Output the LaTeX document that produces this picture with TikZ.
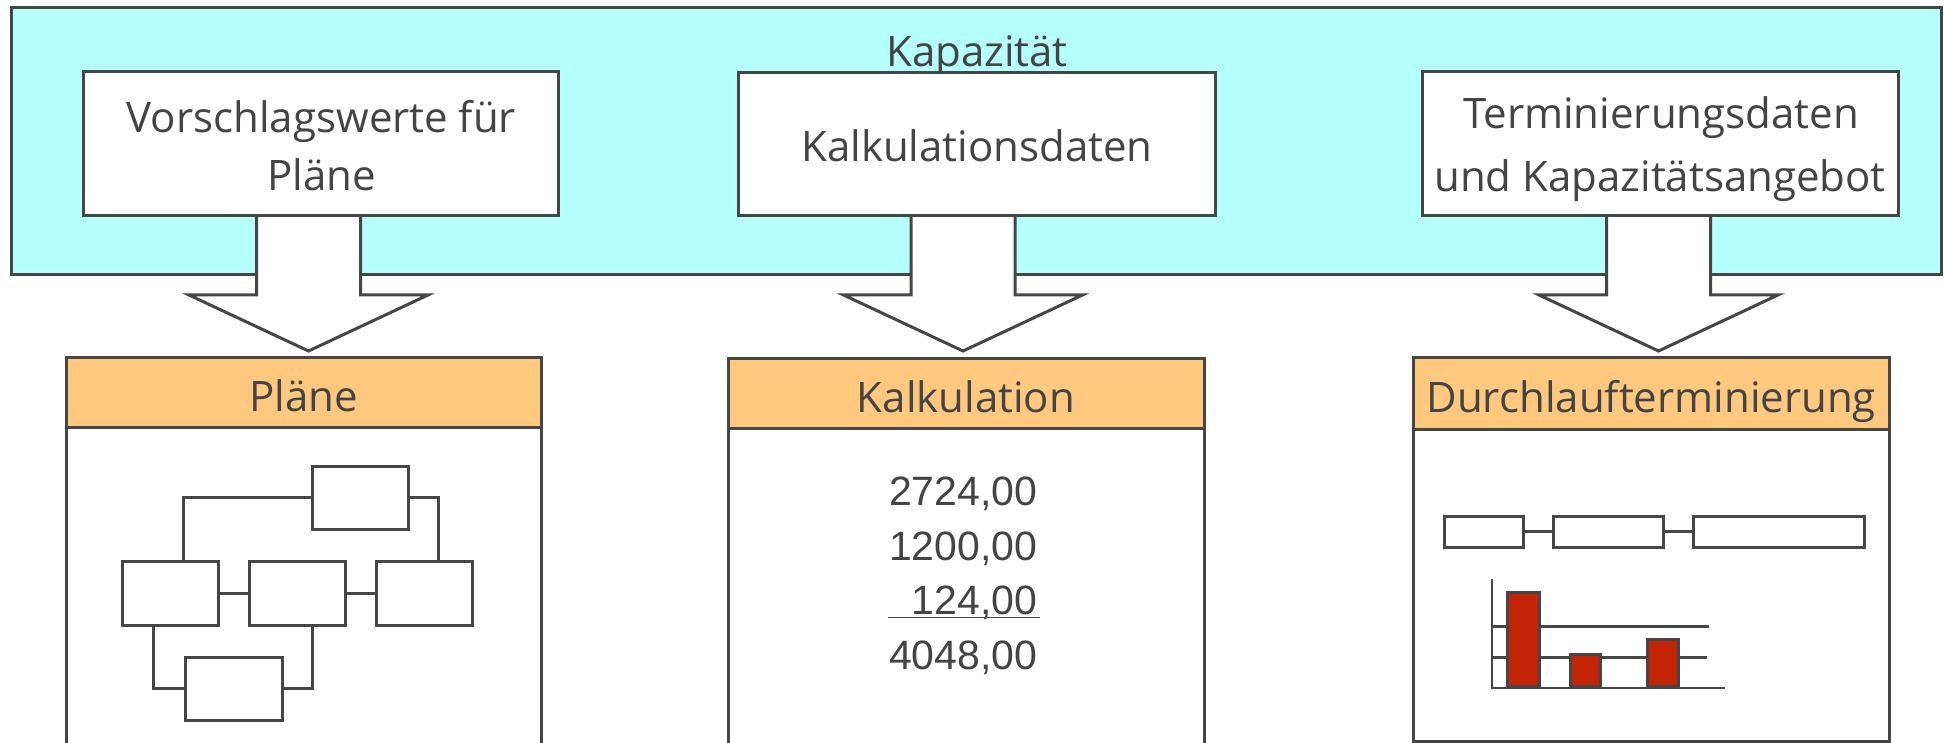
\documentclass[tikz,border=0pt]{standalone}
\usepackage{fontspec}
\usetikzlibrary{calc}
\newfontfamily\osans{Open Sans}
\newfontfamily\lsans{Liberation Sans}
\definecolor{lc}{RGB}{70,70,70}
\definecolor{tc}{RGB}{68,68,68}
\definecolor{cyanbg}{RGB}{181,255,255}
\definecolor{orangehd}{RGB}{254,200,127}
\definecolor{redbar}{RGB}{196,36,6}
\tikzset{
 frame/.style={draw=lc, line width=3pt},
 bigbox/.style={frame, fill=white, rectangle, inner sep=0pt},
 boxtext/.style={anchor=base, inner sep=0pt, text=tc, font=\osans\fontsize{42}{50}\selectfont},
 header/.style={frame, fill=orangehd, inner sep=0pt, text=tc, font=\osans\fontsize{42}{50}\selectfont, text height=38pt, text depth=0pt},
 body/.style={frame, fill=white, inner sep=0pt},
 smallbox/.style={frame, fill=white, inner sep=0pt},
 link/.style={draw=lc, line width=3pt},
 axisline/.style={draw=lc, line width=2.2pt},
 blockarrow/.style={frame, fill=white, line join=miter},
 num/.style={inner sep=0pt, text=tc, font=\lsans\fontsize{41}{48}\selectfont, anchor=base east},
 bar/.style={frame, fill=redbar, inner sep=0pt, anchor=south},
}
\begin{document}
\begin{tikzpicture}[x=1pt,y=-1pt]
\useasboundingbox (0,0) rectangle (1944,743);
% capacity frame
\node[frame, fill=cyanbg, minimum width=1930pt, minimum height=267pt, inner sep=0pt] (kapa) at (976,141.5) {};
\node[boxtext] (kaplabel) at (977,67) {Kapazität};
% block arrows
\foreach \c/\n in {308.5/1,963/2,1658.5/3}{
  \coordinate (as\n) at (\c,216);
  \coordinate (at\n) at (\c,351);
  \draw[blockarrow] ($(as\n)+(-52,0)$) -- ++(0,79) -- ++(-67.5,0) -- (at\n) -- ++(119.5,-56) -- ++(-67.5,0) -- ++(0,-79);
}
% source boxes
\node[bigbox, minimum width=475.5pt, minimum height=144pt] (vw) at (321,144) {};
\node[boxtext] (vw1) at (321.5,132.5) {Vorschlagswerte für};
\node[boxtext] (vw2) at (321.5,191) {Pläne};
\node[bigbox, minimum width=476.5pt, minimum height=143pt] (kd) at (977,144.5) {};
\node[boxtext] (kd1) at (977,161.7) {Kalkulationsdaten};
\node[bigbox, minimum width=476pt, minimum height=144pt] (td) at (1660,144) {};
\node[boxtext] (td1) at (1661,128.3) {Terminierungsdaten};
\node[boxtext] (td2) at (1660,191.7) {und Kapazitätsangebot};
% panels
\node[body, minimum width=475pt, minimum height=403pt] (pl) at (303.5,558.5) {};
\node[header, minimum width=475pt, minimum height=70pt] (plh) at (303.5,392) {Pläne};
\node[body, minimum width=476pt, minimum height=402pt] (ka) at (966,559) {};
\node[header, minimum width=476pt, minimum height=70pt] (kah) at (966,393) {Kalkulation};
\node[body, minimum width=475.5pt, minimum height=384pt] (du) at (1651.25,549) {};
\node[header, minimum width=475.5pt, minimum height=72pt] (duh) at (1651.25,393) {Durchlaufterminierung};
% plan network
\node[smallbox, minimum width=96pt, minimum height=63pt] (p1) at (360.5,497.5) {};
\node[smallbox, minimum width=96pt, minimum height=64pt] (p2) at (170,593) {};
\node[smallbox, minimum width=96pt, minimum height=64pt] (p3) at (297,593) {};
\node[smallbox, minimum width=96pt, minimum height=64pt] (p4) at (424,593) {};
\node[smallbox, minimum width=97pt, minimum height=63pt] (p5) at (233.5,688.5) {};
\draw[link] (p1.west) -| ([xshift=63pt]p2.north west);
\draw[link] (p1.east) -| ([xshift=64pt]p4.north west);
\draw[link] (p2.east) -- (p3.west);
\draw[link] (p3.east) -- (p4.west);
\draw[link] ([xshift=33pt]p2.south west) |- (p5.west);
\draw[link] ([xshift=65pt]p3.south west) |- (p5.east);
% calculation
\node[num] (n1) at (1037.5,505.5) {2724,00};
\node[num] (n2) at (1037.5,560) {1200,00};
\node[num] (n3) at (1037.5,614.5) {124,00};
\node[num] (n4) at (1037.5,669) {4048,00};
\coordinate (ul1) at (888,617.5);
\coordinate (ul2) at (1040,617.5);
\draw[draw=lc, line width=1.6pt] (ul1) -- (ul2);
% gantt bars
\node[smallbox, minimum width=79pt, minimum height=31pt] (g1) at (1483.5,531.5) {};
\node[smallbox, minimum width=110pt, minimum height=31pt] (g2) at (1608,531.5) {};
\node[smallbox, minimum width=171pt, minimum height=31pt] (g3) at (1778.5,531.5) {};
\draw[link] (g1.east) -- (g2.west);
\draw[link] (g2.east) -- (g3.west);
% load chart
\coordinate (c0) at (1492,688);
\coordinate (ctop) at (1492,579);
\coordinate (cend) at (1725,688);
\coordinate (gl1a) at (1492,626);
\coordinate (gl1b) at (1709,626);
\coordinate (gl2a) at (1492,657);
\coordinate (gl2b) at (1707,657);
\draw[link] (gl1a) -- (gl1b);
\draw[link] (gl2a) -- (gl2b);
\draw[axisline] (ctop) -- (c0) -- (cend);
\node[bar, minimum width=32pt, minimum height=94pt] (r1) at (1523,688) {};
\node[bar, minimum width=30pt, minimum height=32pt] (r2) at (1585,688) {};
\node[bar, minimum width=31pt, minimum height=47pt] (r3) at (1662.5,688) {};
\end{tikzpicture}
\end{document}
